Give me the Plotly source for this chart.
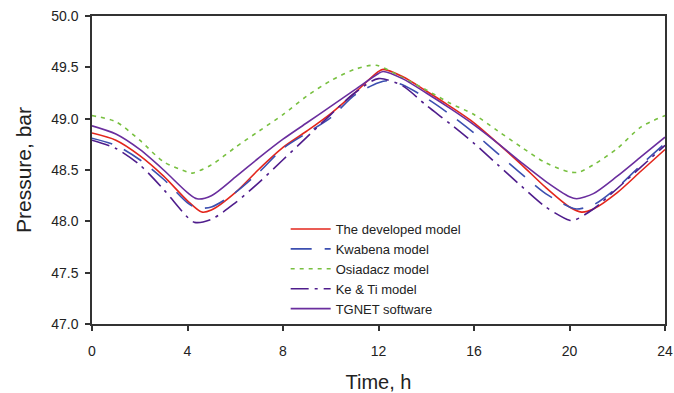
import plotly.graph_objects as go

# Time (h) and pressures (bar)
t_dev = [0, 1, 2, 3, 4, 4.6, 5, 6, 7, 8, 9, 10, 11, 12, 12.2, 13, 14, 15, 16, 17, 18, 19, 20, 20.5, 21, 22, 23, 24]
p_dev = [48.86, 48.79, 48.64, 48.44, 48.20, 48.09, 48.11, 48.28, 48.51, 48.72, 48.88, 49.05, 49.25, 49.46, 49.48,
         49.41, 49.27, 49.12, 48.96, 48.76, 48.55, 48.33, 48.14, 48.09, 48.12, 48.28, 48.49, 48.70]

t_kwa = [0, 1, 2, 3, 4, 4.4, 5, 6, 7, 8, 9, 10, 11, 12, 12.4, 13, 14, 15, 16, 17, 18, 19, 20, 20.3, 21, 22, 23, 24]
p_kwa = [48.81, 48.74, 48.60, 48.41, 48.18, 48.13, 48.14, 48.28, 48.48, 48.71, 48.86, 49.01, 49.23, 49.35, 49.37,
         49.33, 49.20, 49.04, 48.86, 48.66, 48.46, 48.27, 48.14, 48.12, 48.16, 48.33, 48.55, 48.76]

t_osi = [0, 1, 2, 3, 4, 4.2, 5, 6, 7, 8, 9, 10, 11, 11.9, 13, 14, 15, 16, 17, 18, 19, 20, 20.4, 21, 22, 23, 24]
p_osi = [49.03, 48.97, 48.79, 48.58, 48.48, 48.47, 48.55, 48.72, 48.88, 49.04, 49.22, 49.37, 49.48, 49.52,
         49.40, 49.28, 49.15, 49.04, 48.88, 48.72, 48.57, 48.48, 48.48, 48.55, 48.71, 48.92, 49.03]

t_ke = [0, 1, 2, 3, 4, 4.3, 5, 6, 7, 8, 9, 10, 11, 12, 13, 14, 15, 16, 17, 18, 19, 20, 20.2, 21, 22, 23, 24]
p_ke = [48.79, 48.71, 48.55, 48.31, 48.04, 47.99, 48.02, 48.18, 48.38, 48.60, 48.82, 49.04, 49.25, 49.39,
        49.32, 49.13, 48.95, 48.76, 48.55, 48.34, 48.14, 48.01, 48.01, 48.12, 48.32, 48.53, 48.74]

t_tg = [0, 1, 2, 3, 4, 4.4, 5, 6, 7, 8, 9, 10, 11, 12, 12.2, 13, 14, 15, 16, 17, 18, 19, 20, 20.3, 21, 22, 23, 24]
p_tg = [48.93, 48.85, 48.70, 48.50, 48.28, 48.22, 48.25, 48.43, 48.62, 48.80, 48.96, 49.12, 49.28, 49.44, 49.46,
        49.39, 49.25, 49.10, 48.94, 48.76, 48.57, 48.39, 48.24, 48.22, 48.27, 48.44, 48.63, 48.82]

names = ["The developed model", "Kwabena model", "Osiadacz model", "Ke & Ti model", "TGNET software"]
x_ticks = [0, 4, 8, 12, 16, 20, 24]
y_ticks = [47.0, 47.5, 48.0, 48.5, 49.0, 49.5, 50.0]

series = [
    (t_dev, p_dev, dict(color="#e3261c", width=1.6, dash="solid")),
    (t_kwa, p_kwa, dict(color="#3c4fb0", width=1.6, dash="21px,13px")),
    (t_osi, p_osi, dict(color="#78c040", width=1.6, dash="4px,5px")),
    (t_ke, p_ke, dict(color="#4f1d8c", width=1.6, dash="18px,6px,3px,6px")),
    (t_tg, p_tg, dict(color="#6a2e9e", width=1.6, dash="solid")),
]

fig = go.Figure()
for (tx, py, ln), nm in zip(series, names):
    fig.add_trace(go.Scatter(x=tx, y=py, mode="lines", name=nm,
                             line=dict(shape="spline", smoothing=0.8, **ln)))

font_family = "Liberation Sans, Arial, sans-serif"
axis_common = dict(showline=True, linecolor="#333333", linewidth=1.5, mirror=True,
                   ticks="outside", ticklen=5, tickwidth=1.5, tickcolor="#333333",
                   showgrid=False, zeroline=False, ticklabeloverflow="allow", automargin=False,
                   tickfont=dict(family=font_family, size=14, color="#222222"))

fig.update_layout(
    width=674, height=393,
    margin=dict(l=92, r=9, t=16, b=69),
    paper_bgcolor="white", plot_bgcolor="white",
    xaxis=dict(range=[0, 24], tickvals=x_ticks, ticktext=[str(v) for v in x_ticks],
               title=dict(text="Time, h", font=dict(family=font_family, size=20, color="#222222"),
                          standoff=18),
               ticklabelstandoff=8, **axis_common),
    yaxis=dict(range=[47, 50], tickvals=y_ticks, ticktext=[f"{v:.1f}" for v in y_ticks],
               title=dict(text="Pressure, bar", font=dict(family=font_family, size=21, color="#222222"),
                          standoff=14),
               ticklabelstandoff=4, **axis_common),
    legend=dict(x=0.338, y=0.357, xanchor="left", yanchor="top", bgcolor="rgba(0,0,0,0)",
                font=dict(family=font_family, size=13, color="#222222"),
                tracegroupgap=0, itemwidth=40),
    showlegend=True,
)

fig.write_html("out.html")
